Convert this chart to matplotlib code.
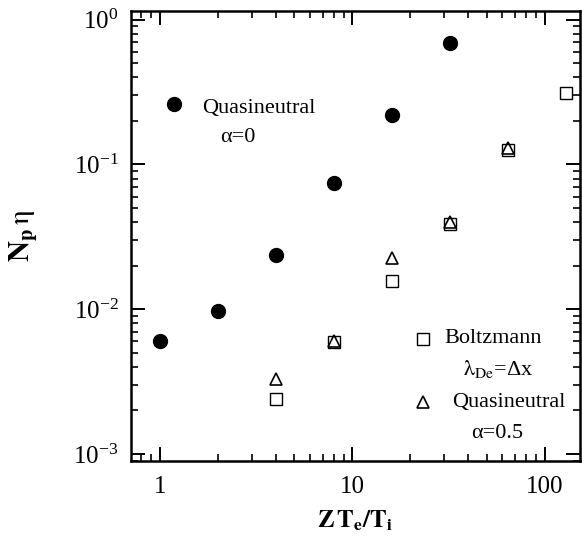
import numpy as np
import matplotlib
matplotlib.use("Agg")
import matplotlib.pyplot as plt
from matplotlib.ticker import LogLocator, LogFormatterMathtext, FuncFormatter, NullFormatter

plt.rcParams['font.family'] = ['Liberation Serif', 'DejaVu Serif']
plt.rcParams['mathtext.fontset'] = 'stix'

# Quasineutral, alpha = 0 (filled circles)
zt_qn0 = [1, 2, 4, 8, 16, 32]
np_qn0 = [6.0e-3, 9.7e-3, 0.0237, 0.075, 0.22, 0.69]

# Boltzmann, lambda_De = dx (open squares)
zt_boltz = [4, 8, 16, 32, 64, 128]
np_boltz = [2.4e-3, 5.9e-3, 0.0157, 0.039, 0.126, 0.31]

# Quasineutral, alpha = 0.5 (open triangles)
zt_qn05 = [4, 8, 16, 32, 64]
np_qn05 = [3.3e-3, 6.0e-3, 0.0225, 0.040, 0.13]

fig = plt.figure(figsize=(5.82, 5.48), dpi=100)
ax = fig.add_axes([0.2251, 0.1588, 0.7715, 0.8212])

ax.plot(zt_qn0, np_qn0, 'o', color='black', markersize=10, linestyle='none')
ax.plot(zt_boltz, np_boltz, 's', mfc='white', mec='black', mew=1.0,
        markersize=8, linestyle='none')
ax.plot(zt_qn05, np_qn05, '^', mfc='none', mec='black', mew=1.2,
        markersize=8.5, linestyle='none')

ax.set_xscale('log')
ax.set_yscale('log')
ax.set_xlim(0.708, 152)
ax.set_ylim(8.95e-4, 1.15)

ax.yaxis.set_major_locator(LogLocator(base=10, numticks=10))
ax.yaxis.set_major_formatter(LogFormatterMathtext())
ax.yaxis.set_minor_locator(LogLocator(base=10, subs=np.arange(2, 10), numticks=10))
ax.yaxis.set_minor_formatter(NullFormatter())
ax.xaxis.set_major_locator(LogLocator(base=10, numticks=10))
ax.xaxis.set_major_formatter(FuncFormatter(lambda v, p: '%g' % v))
ax.xaxis.set_minor_locator(LogLocator(base=10, subs=np.arange(2, 10), numticks=10))
ax.xaxis.set_minor_formatter(NullFormatter())

ax.tick_params(which='both', direction='in', top=True, right=True)
ax.tick_params(which='major', length=10, width=1.4, labelsize=18, pad=9)
ax.tick_params(axis='x', which='major', pad=11)
ax.tick_params(which='minor', length=5, width=1.2)
for s in ax.spines.values():
    s.set_linewidth(1.8)

ax.set_ylabel(r'$\mathbf{N_p}\,\mathrm{η}$', fontsize=21)
ax.yaxis.set_label_coords(-0.205, 0.5)
ax.set_xlabel(r'$\mathbf{Z\,T_e/T_i}$', fontsize=18)
ax.xaxis.set_label_coords(0.5, -0.105)

# key, drawn inside the frame
tr = ax.transAxes
ax.plot([0.0958], [0.793], 'o', color='black', markersize=10, transform=tr)
ax.text(0.158, 0.773, 'Quasineutral', fontsize=16, transform=tr, va='baseline')
ax.text(0.238, 0.709, 'α=0', fontsize=16, transform=tr, va='baseline', ha='center')

ax.plot([0.650], [0.271], 's', mfc='white', mec='black', mew=1.0, markersize=8, transform=tr)
ax.text(0.699, 0.262, 'Boltzmann', fontsize=16, transform=tr, va='baseline')
ax.text(0.817, 0.191, r'$\mathrm{λ}_{\mathrm{De}}$=Δx', fontsize=16, transform=tr,
        va='baseline', ha='center')

ax.plot([0.650], [0.131], '^', mfc='none', mec='black', mew=1.2, markersize=8.5, transform=tr)
ax.text(0.715, 0.120, 'Quasineutral', fontsize=16, transform=tr, va='baseline')
ax.text(0.815, 0.051, 'α=0.5', fontsize=16, transform=tr, va='baseline', ha='center')

fig.savefig('out.png', dpi=100)
